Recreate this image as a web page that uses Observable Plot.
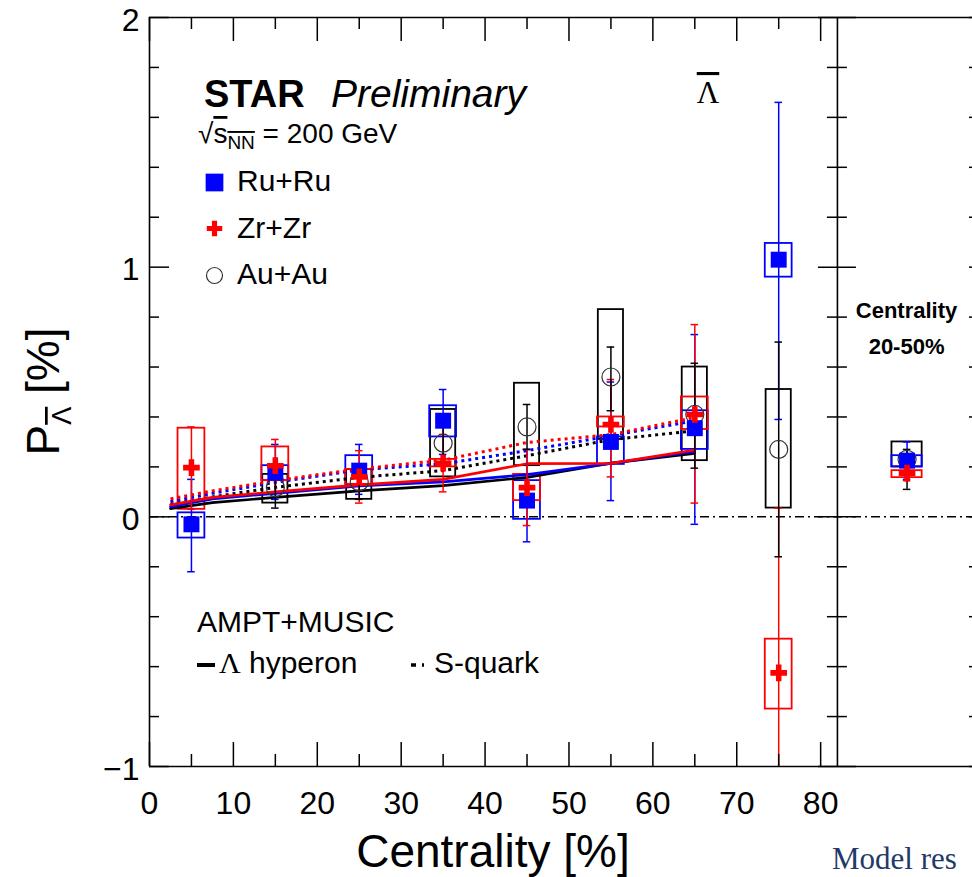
<!DOCTYPE html>
<html><head><meta charset="utf-8">
<script src="https://cdn.jsdelivr.net/npm/d3@7"></script>
<script src="https://cdn.jsdelivr.net/npm/@observablehq/plot@0.6"></script>
<style>
html,body{margin:0;padding:0;background:#fff;overflow:hidden}
#chart{width:972px;height:877px;overflow:hidden}
svg{display:block}
</style></head><body><div id="chart"></div>
<script>
// ---------------- DATA ----------------
const centrality = [5, 15, 25, 35, 45, 55, 65, 75];
const ruValue  = [-0.03, 0.177, 0.185, 0.385, 0.065, 0.30, 0.355, 1.03];
const ruStatLo = [-0.22, 0.07, 0.09, 0.25, -0.10, 0.065, -0.03, 0.39];
const ruStatHi = [0.15, 0.29, 0.29, 0.51, 0.27, 0.54, 0.73, 1.66];
const ruSysLo  = [-0.085, 0.145, 0.13, 0.32, -0.01, 0.21, 0.27, 0.96];
const ruSysHi  = [0.016, 0.205, 0.245, 0.445, 0.145, 0.32, 0.425, 1.095];

const zrValue  = [0.197, 0.205, 0.16, 0.215, 0.117, 0.37, 0.41, -0.625];
const zrStatLo = [0.03, 0.10, 0.055, 0.10, -0.035, 0.16, 0.055, -1.7];
const zrStatHi = [0.36, 0.31, 0.265, 0.33, 0.27, 0.55, 0.77, 0.035];
const zrSysLo  = [0.03, 0.145, 0.13, 0.20, 0.065, 0.36, 0.35, -0.77];
const zrSysHi  = [0.355, 0.28, 0.19, 0.23, 0.17, 0.40, 0.48, -0.49];

const auCentrality = [15, 25, 35, 45, 55, 65, 75];
const auValue  = [0.117, 0.14, 0.295, 0.36, 0.56, 0.41, 0.27];
const auStatLo = [0.035, 0.07, 0.22, 0.27, 0.425, 0.195, -0.16];
const auStatHi = [0.20, 0.21, 0.37, 0.45, 0.68, 0.615, 0.70];
const auSysLo  = [0.055, 0.07, 0.16, 0.205, 0.31, 0.225, 0.035];
const auSysHi  = [0.17, 0.19, 0.43, 0.535, 0.83, 0.60, 0.51];

// integrated 20-50% centrality panel: Ru+Ru, Zr+Zr, Au+Au
const panelSeries = ["Ru+Ru", "Zr+Zr", "Au+Au"];
const panelValue  = [0.225, 0.175, 0.23];
const panelStatLo = [0.15, 0.145, 0.11];
const panelStatHi = [0.30, 0.21, 0.27];
const panelSysLo  = [0.20, 0.157, 0.20];
const panelSysHi  = [0.245, 0.185, 0.30];

// AMPT+MUSIC model curves
const modelCentrality = [2.5, 7.5, 15, 25, 35, 45, 55, 65];
const hyperonRu = [0.04, 0.072, 0.094, 0.124, 0.14, 0.169, 0.214, 0.262];
const hyperonZr = [0.048, 0.078, 0.10, 0.128, 0.15, 0.213, 0.214, 0.268];
const hyperonAu = [0.033, 0.057, 0.078, 0.104, 0.125, 0.158, 0.215, 0.254];
const squarkRu  = [0.061, 0.094, 0.138, 0.188, 0.212, 0.265, 0.325, 0.385];
const squarkZr  = [0.072, 0.104, 0.145, 0.192, 0.227, 0.298, 0.329, 0.398];
const squarkAu  = [0.05, 0.08, 0.118, 0.158, 0.185, 0.245, 0.309, 0.345];

// ticks
const xTickLabels = [0, 10, 20, 30, 40, 50, 60, 70, 80];
const xMinorTicks = [5, 15, 25, 35, 45, 55, 65, 75];
const yTickLabels = [-1, 0, 1, 2];
const yMinorTicks = [-0.8, -0.6, -0.4, -0.2, 0.2, 0.4, 0.6, 0.8, 1.2, 1.4, 1.6, 1.8];

// ---------------- LAYOUT ----------------
const W = 972, H = 877, ML = 149, MR = 0, MT = 17, MB = 111;
const xMax = 98.1, xDivider = 82, panelX = 90.3;
const frameW = W - ML - MR, frameH = H - MT - MB;
const pxOf = v => v / xMax * frameW;
const SANS = "'Liberation Sans', Arial, Helvetica, sans-serif";
const SERIF = "'Liberation Serif', 'Times New Roman', serif";
const BLUE = "#0000ff", RED = "#ff0000", BLACK = "#000000";

function rows(cs, v, sl, sh, yl, yh, half) {
  return cs.map((c, i) => ({x: c, value: v[i], statLo: sl[i], statHi: sh[i], sysLo: yl[i], sysHi: yh[i], half}));
}
const ru = rows(centrality, ruValue, ruStatLo, ruStatHi, ruSysLo, ruSysHi, 1.6);
const zr = rows(centrality, zrValue, zrStatLo, zrStatHi, zrSysLo, zrSysHi, 1.6);
const au = rows(auCentrality, auValue, auStatLo, auStatHi, auSysLo, auSysHi, 1.5);
const panel = panelSeries.map((s, i) => ({series: s, x: panelX, value: panelValue[i], statLo: panelStatLo[i], statHi: panelStatHi[i], sysLo: panelSysLo[i], sysHi: panelSysHi[i], half: 1.8}));
ru.push(panel[0]); zr.push(panel[1]); au.push(panel[2]);

const model = (arr) => modelCentrality.map((c, i) => ({c, v: arr[i]}));

function boxes(data, color) {
  return Plot.rect(data, {x1: d => d.x - d.half, x2: d => d.x + d.half, y1: "sysLo", y2: "sysHi", fill: "none", stroke: color, strokeWidth: 1.8});
}
function errors(data, color) {
  return [
    Plot.ruleX(data, {x: "x", y1: "statLo", y2: "statHi", stroke: color, strokeWidth: 1.5, clip: true}),
    Plot.ruleY(data, {y: "statLo", x1: d => d.x - 0.45, x2: d => d.x + 0.45, stroke: color, strokeWidth: 1.5, clip: true}),
    Plot.ruleY(data, {y: "statHi", x1: d => d.x - 0.45, x2: d => d.x + 0.45, stroke: color, strokeWidth: 1.5, clip: true})
  ];
}

function annotations(index, scales, values, dims) {
  const g = d3.create("svg:g").attr("font-family", SANS).attr("fill", "black").attr("text-anchor", "start");
  // y-axis title
  const yl = g.append("text")
    .attr("transform", `translate(${dims.marginLeft - 90},${scales.y(0.5)}) rotate(-90)`)
    .attr("text-anchor", "middle").attr("font-size", 46);
  yl.append("tspan").text("P");
  yl.append("tspan").attr("font-size", 27).attr("dy", 12).style("text-decoration", "overline").text("Λ");
  yl.append("tspan").attr("dy", -12).text(" [%]");
  // x-axis title
  g.append("text").attr("x", scales.x(xDivider / 2)).attr("y", H - 10)
    .attr("text-anchor", "middle").attr("font-size", 46).text("Centrality [%]");
  // STAR Preliminary
  g.append("text").attr("x", 204).attr("y", 107).attr("font-size", 38).attr("font-weight", "bold").text("STAR");
  g.append("text").attr("x", 331).attr("y", 107).attr("font-size", 39).attr("font-style", "italic").text("Preliminary");
  // sqrt(s_NN)
  const s = g.append("text").attr("x", 198).attr("y", 143).attr("font-size", 28);
  s.append("tspan").text("√");
  s.append("tspan").style("text-decoration", "overline").text("s");
  s.append("tspan").attr("font-size", 19).attr("dy", 6).style("text-decoration", "overline").text("NN");
  s.append("tspan").attr("dy", -6).text(" = 200 GeV");
  // legend labels
  const legend = ["Ru+Ru", "Zr+Zr", "Au+Au"];
  const base = [191, 238, 284];
  legend.forEach((t, i) => g.append("text").attr("x", 237).attr("y", base[i]).attr("font-size", 30).text(t));
  // Anti-Lambda symbol
  g.append("text").attr("x", 708).attr("y", 103).attr("text-anchor", "middle")
    .attr("font-family", SERIF).attr("font-size", 31).style("text-decoration", "overline").text("Λ");
  // Panel label
  g.append("text").attr("x", scales.x(panelX)).attr("y", 318).attr("text-anchor", "middle")
    .attr("font-size", 22).attr("font-weight", "bold").text("Centrality");
  g.append("text").attr("x", scales.x(panelX)).attr("y", 354).attr("text-anchor", "middle")
    .attr("font-size", 22).attr("font-weight", "bold").text("20-50%");
  // model legend
  g.append("text").attr("x", 197).attr("y", 632).attr("font-size", 30).text("AMPT+MUSIC");
  g.append("line").attr("x1", 197).attr("x2", 215).attr("y1", 665).attr("y2", 665).attr("stroke", "black").attr("stroke-width", 4);
  g.append("text").attr("x", 219).attr("y", 673).attr("font-family", SERIF).attr("font-size", 30).text("Λ");
  g.append("text").attr("x", 249).attr("y", 673).attr("font-size", 30).text("hyperon");
  g.append("line").attr("x1", 411).attr("x2", 427).attr("y1", 665).attr("y2", 665).attr("stroke", "black").attr("stroke-width", 3.5).attr("stroke-dasharray", "5,6,2,5");
  g.append("text").attr("x", 434).attr("y", 673).attr("font-size", 30).text("S-quark");
  // slide text below
  g.append("text").attr("x", 832).attr("y", 869).attr("font-family", SERIF).attr("font-size", 31).attr("fill", "#1f3a68").text("Model res");
  return g.node();
}

const fmt = d => d < 0 ? "\u2212" + Math.abs(d) : String(d);
const divPx = pxOf(xDivider);
const dotted = {strokeWidth: 3, strokeDasharray: "3,4", strokeLinecap: "butt"};

const plot = Plot.plot({
  width: W, height: H,
  marginLeft: ML, marginRight: MR, marginTop: MT, marginBottom: MB,
  x: {domain: [0, xMax], axis: null},
  y: {domain: [-1, 2], axis: null},
  style: {fontFamily: SANS, background: "white", color: "black", overflow: "hidden"},
  marks: [
    // zero reference line
    Plot.ruleY([0], {stroke: "black", strokeWidth: 1.5, strokeDasharray: "9,4,2,4"}),
    // systematic boxes
    boxes(au, BLACK), boxes(ru, BLUE), boxes(zr, RED),
    // model curves
    Plot.line(model(squarkAu), {x: "c", y: "v", stroke: BLACK, ...dotted}),
    Plot.line(model(squarkRu), {x: "c", y: "v", stroke: BLUE, ...dotted}),
    Plot.line(model(squarkZr), {x: "c", y: "v", stroke: RED, ...dotted}),
    Plot.line(model(hyperonAu), {x: "c", y: "v", stroke: BLACK, strokeWidth: 2.6}),
    Plot.line(model(hyperonRu), {x: "c", y: "v", stroke: BLUE, strokeWidth: 2.6}),
    Plot.line(model(hyperonZr), {x: "c", y: "v", stroke: RED, strokeWidth: 2.6}),
    // statistical errors
    ...errors(ru, BLUE), ...errors(zr, RED), ...errors(au, BLACK),
    // markers
    Plot.dot(au, {x: "x", y: "value", r: 9, fill: "none", stroke: "#333", strokeWidth: 1.2}),
    Plot.dot(ru, {x: "x", y: "value", r: 9, symbol: "square", fill: BLUE, stroke: "none"}),
    Plot.dot(zr, {x: "x", y: "value", r: 7, symbol: "cross", fill: RED, stroke: "none"}),
    // frame
    Plot.ruleY([-1, 2], {stroke: "black", strokeWidth: 1.6}),
    Plot.ruleX([0, xDivider], {stroke: "black", strokeWidth: 1.6}),
    // x ticks (bottom & top, pointing inward)
    Plot.tickX(xTickLabels, {x: d => d, insetTop: frameH - 24, stroke: "black", strokeWidth: 1.5}),
    Plot.tickX(xMinorTicks, {x: d => d, insetTop: frameH - 12, stroke: "black", strokeWidth: 1.5}),
    Plot.tickX(xTickLabels, {x: d => d, insetBottom: frameH - 24, stroke: "black", strokeWidth: 1.5}),
    Plot.tickX(xMinorTicks, {x: d => d, insetBottom: frameH - 12, stroke: "black", strokeWidth: 1.5}),
    // y ticks on left axis
    Plot.tickY(yTickLabels, {y: d => d, insetRight: frameW - 20, stroke: "black", strokeWidth: 1.5}),
    Plot.tickY(yMinorTicks, {y: d => d, insetRight: frameW - 10, stroke: "black", strokeWidth: 1.5}),
    // y ticks on the panel divider (both sides)
    Plot.tickY(yTickLabels, {y: d => d, insetLeft: divPx - 19, insetRight: frameW - divPx - 19, stroke: "black", strokeWidth: 1.5}),
    Plot.tickY(yMinorTicks, {y: d => d, insetLeft: divPx - 10, insetRight: frameW - divPx - 10, stroke: "black", strokeWidth: 1.5}),
    // ticks at right edge (next panel)
    Plot.tickY(yMinorTicks.concat(yTickLabels), {y: d => d, insetLeft: frameW - 3, stroke: "black", strokeWidth: 1.5}),
    // tick labels
    Plot.text(xTickLabels, {x: d => d, y: -1, dy: 37, text: d => String(d), fontSize: 32, fill: "black"}),
    Plot.text(yTickLabels, {x: 0, y: d => d, dx: -10, dy: 3, text: fmt, textAnchor: "end", fontSize: 32, fill: "black"}),
    // legend markers
    Plot.dot([0], {frameAnchor: "top-left", dx: 65, dy: 165, r: 10, symbol: "square", fill: BLUE, stroke: "none"}),
    Plot.dot([0], {frameAnchor: "top-left", dx: 65, dy: 211, r: 6.5, symbol: "cross", fill: RED, stroke: "none"}),
    Plot.dot([0], {frameAnchor: "top-left", dx: 65, dy: 258, r: 8, fill: "none", stroke: "#333", strokeWidth: 1.2}),
    annotations
  ]
});
document.getElementById("chart").appendChild(plot);
</script>
</body></html>
